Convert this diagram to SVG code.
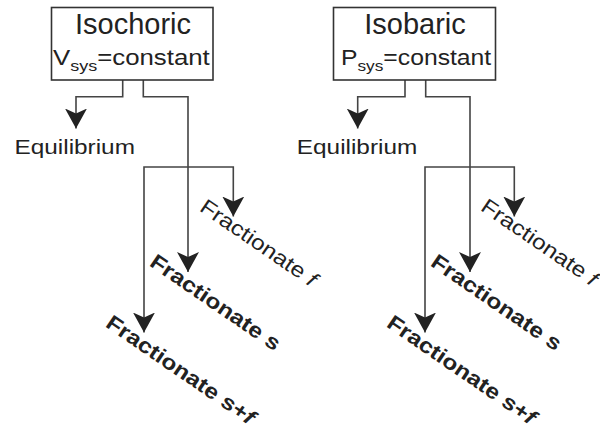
<svg xmlns="http://www.w3.org/2000/svg" width="600" height="427" viewBox="0 0 600 427">
  <defs>
    <style>
      .box { fill: #fff; stroke: #333; stroke-width: 1.6; }
      .wire { fill: none; stroke: #444; stroke-width: 1.6; marker-end: url(#arrow); }
      .t { font-family: "Liberation Sans", Arial, sans-serif; fill: #222; }
      .title { font-size: 29px; text-anchor: middle; }
      .sub { font-size: 21.5px; }
      .lbl { font-size: 21px; }
      .bold { font-weight: bold; }
    </style>
    <marker id="arrow" viewBox="-20 -11 20 22" refX="0" refY="0" markerWidth="20" markerHeight="22" markerUnits="userSpaceOnUse" orient="auto">
      <path d="M0,0 L-20,-11 L-15,0 L-20,11 Z" fill="#222"/>
    </marker>
  </defs>

  <!-- connectors -->
  <g id="connectors">
    <path class="wire" d="M122.7,80 V96.7 H76 V128.5"/>
    <path class="wire" d="M143.3,80 V96.7 H188 V272"/>
    <path class="wire" d="M188,167 H233.3 V216.5"/>
    <path class="wire" d="M188,167 H144 V332.5"/>

    <path class="wire" d="M405,80 V96.7 H357.7 V128.5"/>
    <path class="wire" d="M425.7,80 V96.7 H470 V272"/>
    <path class="wire" d="M470,167 H514.3 V216.5"/>
    <path class="wire" d="M470,167 H425 V332.5"/>
  </g>

  <!-- isochoric branch -->
  <g id="isochoric">
    <rect class="box" x="51.5" y="7.5" width="161.5" height="72.5"/>
    <text class="t title" x="133" y="34">Isochoric</text>
    <text class="t sub" transform="translate(53,64.5) scale(1.2,1)">V<tspan font-size="15" dy="6">sys</tspan><tspan dy="-6">=constant</tspan></text>
  </g>
  <g id="equilibrium-v">
    <text class="t lbl" transform="translate(14.5,153.5) scale(1.16,1)">Equilibrium</text>
  </g>
  <g id="fractionate-f-v">
    <text class="t lbl" transform="translate(198.5,210) rotate(34.5) scale(1.17,1)">Fractionate <tspan font-style="italic">f</tspan></text>
  </g>
  <g id="fractionate-s-v">
    <text class="t lbl bold" transform="translate(148.5,265) rotate(34.5) scale(1.17,1)">Fractionate s</text>
  </g>
  <g id="fractionate-sf-v">
    <text class="t lbl bold" transform="translate(104.5,326) rotate(34.5) scale(1.17,1)">Fractionate s+<tspan font-style="italic">f</tspan></text>
  </g>

  <!-- isobaric branch -->
  <g id="isobaric">
    <rect class="box" x="333.5" y="7.5" width="162" height="72.5"/>
    <text class="t title" x="415" y="34">Isobaric</text>
    <text class="t sub" transform="translate(341,64.5) scale(1.15,1)">P<tspan font-size="15" dy="6">sys</tspan><tspan dy="-6">=constant</tspan></text>
  </g>
  <g id="equilibrium-p">
    <text class="t lbl" transform="translate(296.8,154) scale(1.16,1)">Equilibrium</text>
  </g>
  <g id="fractionate-f-p">
    <text class="t lbl" transform="translate(479.5,209.5) rotate(34.5) scale(1.17,1)">Fractionate <tspan font-style="italic">f</tspan></text>
  </g>
  <g id="fractionate-s-p">
    <text class="t lbl bold" transform="translate(429.5,265) rotate(34.5) scale(1.17,1)">Fractionate s</text>
  </g>
  <g id="fractionate-sf-p">
    <text class="t lbl bold" transform="translate(385.5,326) rotate(34.5) scale(1.17,1)">Fractionate s+<tspan font-style="italic">f</tspan></text>
  </g>
</svg>
